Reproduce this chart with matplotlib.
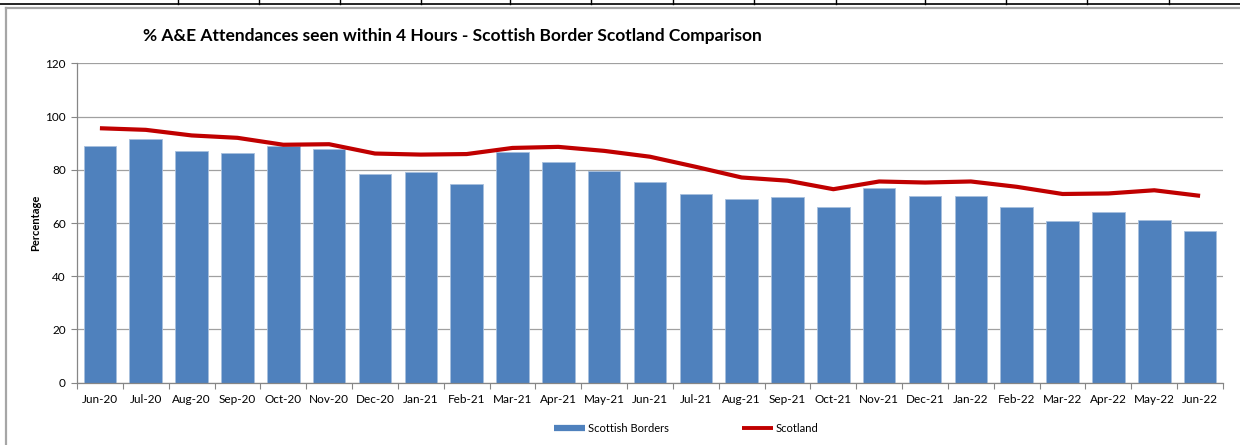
import matplotlib
matplotlib.use("Agg")
import matplotlib.pyplot as plt
from matplotlib.lines import Line2D
import numpy as np

months = ["Jun-20", "Jul-20", "Aug-20", "Sep-20", "Oct-20", "Nov-20", "Dec-20",
          "Jan-21", "Feb-21", "Mar-21", "Apr-21", "May-21", "Jun-21", "Jul-21",
          "Aug-21", "Sep-21", "Oct-21", "Nov-21", "Dec-21", "Jan-22", "Feb-22",
          "Mar-22", "Apr-22", "May-22", "Jun-22"]
borders = [88.8, 91.4, 86.9, 86.2, 88.9, 87.9, 78.5, 79.2, 74.7, 86.6, 82.9, 79.5,
           75.5, 70.8, 68.9, 69.6, 66.1, 73.0, 70.1, 70.0, 65.9, 60.9, 64.1, 61.0, 56.9]
scotland = [95.6, 95.0, 92.9, 92.0, 89.4, 89.6, 86.1, 85.7, 85.9, 88.2, 88.6, 87.1,
            84.9, 81.1, 77.1, 75.9, 72.7, 75.6, 75.2, 75.6, 73.6, 70.9, 71.1, 72.3, 70.2]
yticks = [0, 20, 40, 60, 80, 100, 120]

plt.rcParams['font.family'] = ['Lato', 'DejaVu Sans']

W, H = 1240, 445
fig = plt.figure(figsize=(W / 100, H / 100), dpi=100)
fig.patch.set_facecolor('white')

ax = fig.add_axes([77 / W, 1 - 382.7 / H, (1223 - 77) / W, (382.7 - 63.3) / H])

x = np.arange(len(months))
bar_color = '#4F81BD'
line_color = '#C00000'
ax.bar(x, borders, width=0.71, color=bar_color, edgecolor='#A7BFDE', linewidth=0.6,
       zorder=2, label='Scottish Borders')
ax.plot(x, scotland, color=line_color, lw=3.0, solid_joinstyle='round',
        solid_capstyle='butt', zorder=3, label='Scotland')

ax.set_xlim(-0.5, len(months) - 0.5)
ax.set_ylim(0, 120)
ax.set_yticks(yticks)
ax.set_yticklabels([str(v) for v in yticks])
ax.set_xticks(x)
ax.set_xticklabels(months)
ax.set_xticks(np.arange(-0.5, len(months), 1.0), minor=True)
ax.tick_params(axis='x', which='major', length=0, labelsize=8.5, pad=8, colors='black')
ax.tick_params(axis='x', which='minor', length=4, color='#868686', width=0.8)
ax.tick_params(axis='y', length=4, color='#868686', width=0.8, labelsize=8.5, pad=4)

ax.grid(axis='y', color='#A0A0A0', lw=0.9, zorder=0)
ax.set_axisbelow(True)
for s in ['top', 'right']:
    ax.spines[s].set_visible(False)
for s in ['left', 'bottom']:
    ax.spines[s].set_color('#868686')
    ax.spines[s].set_linewidth(0.9)

ax.set_ylabel('Percentage', fontsize=8, fontweight='bold', labelpad=3)

fig.text(143 / W, 1 - 36 / H, '% A&E Attendances seen within 4 Hours - Scottish Border Scotland Comparison',
         fontsize=12.5, fontweight='bold', ha='left', va='center')

handles = [Line2D([], [], color=bar_color, lw=4.5, solid_capstyle='butt'),
           Line2D([], [], color=line_color, lw=2.8, solid_capstyle='butt')]
fig.legend(handles, ['Scottish Borders', 'Scotland'], loc='center',
           bbox_to_anchor=(686 / W, 1 - 428 / H), ncol=2, frameon=False,
           fontsize=8, handlelength=2.8, handletextpad=0.25, columnspacing=6.6)

# spreadsheet cell lines at top
fig.add_artist(Line2D([0, 1], [1 - 4 / H, 1 - 4 / H], transform=fig.transFigure,
                      color='black', lw=1.2))
for cx in [178, 259, 340, 421, 510, 591, 673, 754, 836, 925, 1006, 1087, 1169]:
    fig.add_artist(Line2D([cx / W, cx / W], [1 - 4 / H, 1], transform=fig.transFigure,
                          color='black', lw=1.0))
# chart area border
fig.add_artist(Line2D([6 / W, 1], [1 - 7.5 / H, 1 - 7.5 / H], transform=fig.transFigure,
                      color='#A6A6A6', lw=1.6))
fig.add_artist(Line2D([6 / W, 6 / W], [0, 1 - 7.5 / H], transform=fig.transFigure,
                      color='#A6A6A6', lw=1.6))

fig.savefig('out.png', dpi=100)
